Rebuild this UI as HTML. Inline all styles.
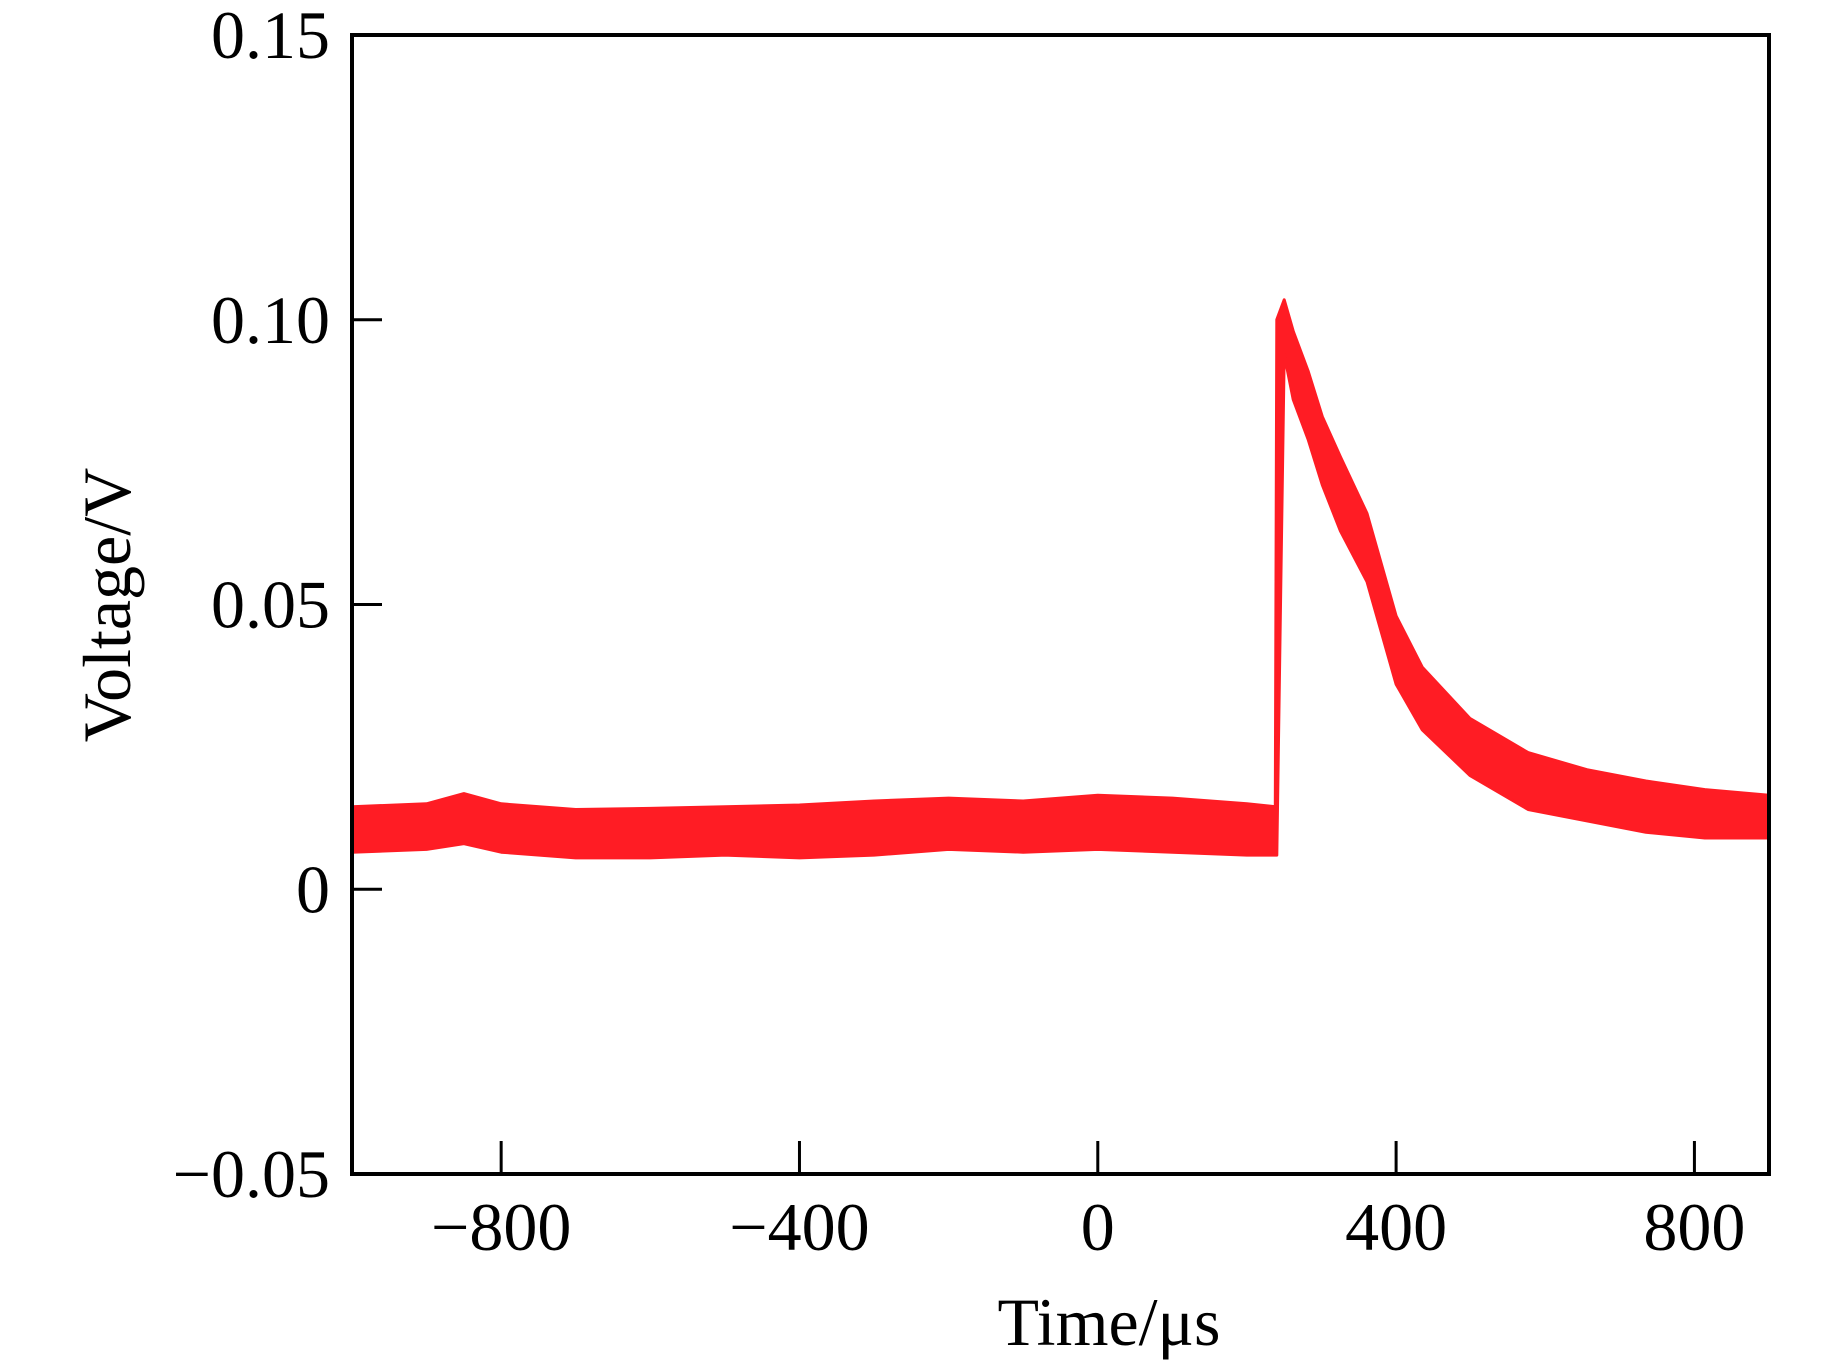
<!DOCTYPE html>
<html><head><meta charset="utf-8"><style>
html,body{margin:0;padding:0;background:#fff;}
svg{display:block;}
text{font-family:"Liberation Serif","DejaVu Serif",serif;fill:#000;}
</style></head><body>
<svg id="chart" width="1843" height="1363" viewBox="0 0 1843 1363" xmlns="http://www.w3.org/2000/svg">
<g id="series"></g>
<g id="axes"></g>
</svg>
<script>
const times = [-1000,-900,-850,-800,-700,-600,-500,-400,-300,-200,-100,0,100,200,238,240,250,262,282,301,325,361,400,435,499,577,656,735,814,900];
const upperV = [0.0145,0.015,0.0168,0.015,0.014,0.0142,0.0145,0.0148,0.0155,0.016,0.0155,0.0165,0.016,0.015,0.0145,0.100,0.1035,0.098,0.091,0.083,0.076,0.066,0.048,0.039,0.030,0.024,0.021,0.019,0.0175,0.0165];
const lowerV = [0.0065,0.007,0.008,0.0065,0.0055,0.0055,0.006,0.0055,0.006,0.007,0.0065,0.007,0.0065,0.006,0.006,0.006,0.094,0.086,0.079,0.071,0.063,0.054,0.036,0.028,0.020,0.014,0.012,0.010,0.009,0.009];
const xTicks = [-800,-400,0,400,800];
const xTickLabels = ["\u2212800","\u2212400","0","400","800"];
const yTicks = [0.15,0.10,0.05,0,-0.05];
const yTickLabels = ["0.15","0.10","0.05","0","\u22120.05"];

const L=352,R=1769,T=35,B=1174;
const xMin=-1000,xMax=900,yMin=-0.05,yMax=0.15;
function sx(t){return L+(t-xMin)/(xMax-xMin)*(R-L);}
function sy(v){return T+(yMax-v)/(yMax-yMin)*(B-T);}
const NS="http://www.w3.org/2000/svg";
function mk(tag,parent){const e=document.createElementNS(NS,tag);parent.appendChild(e);return e;}

const sg=document.getElementById('series');
let pts=[];
for(let i=0;i<times.length;i++)pts.push(sx(times[i]).toFixed(1)+','+sy(upperV[i]).toFixed(1));
for(let i=times.length-1;i>=0;i--)pts.push(sx(times[i]).toFixed(1)+','+sy(lowerV[i]).toFixed(1));
const band=mk('polygon',sg);
band.setAttribute('points',pts.join(' '));
band.setAttribute('fill','#ff1c24');
band.setAttribute('stroke','#ff1c24');
band.setAttribute('stroke-width','3');
band.setAttribute('stroke-linejoin','round');



const ag=document.getElementById('axes');
const frame=mk('rect',ag);
frame.setAttribute('x',L);frame.setAttribute('y',T);
frame.setAttribute('width',R-L);frame.setAttribute('height',B-T);
frame.setAttribute('fill','none');frame.setAttribute('stroke','#000');frame.setAttribute('stroke-width','4');



xTicks.forEach((t,i)=>{
  const x=sx(t);
  const ln=mk('line',ag);
  ln.setAttribute('x1',x);ln.setAttribute('x2',x);ln.setAttribute('y1',B);ln.setAttribute('y2',B-33);
  ln.setAttribute('stroke','#000');ln.setAttribute('stroke-width','3');
  
  
  const tx=mk('text',ag);
  tx.setAttribute('x',x);tx.setAttribute('y',1250);tx.setAttribute('text-anchor','middle');tx.setAttribute('font-size','68');
  tx.textContent=xTickLabels[i];
  
  
});
yTicks.forEach((v,i)=>{
  const y=sy(v);
  const ln=mk('line',ag);
  ln.setAttribute('x1',L);ln.setAttribute('x2',L+30);ln.setAttribute('y1',y);ln.setAttribute('y2',y);
  ln.setAttribute('stroke','#000');ln.setAttribute('stroke-width','3');
  
  
  const tx=mk('text',ag);
  tx.setAttribute('x',330);tx.setAttribute('y',y+23);tx.setAttribute('text-anchor','end');tx.setAttribute('font-size','68');
  tx.textContent=yTickLabels[i];
  
  
});
const xt=mk('text',ag);
xt.setAttribute('x',1109);xt.setAttribute('y',1345);xt.setAttribute('text-anchor','middle');xt.setAttribute('font-size','68');
xt.textContent='Time/\u03bcs';


const yt=mk('text',ag);
yt.setAttribute('x',0);yt.setAttribute('y',0);yt.setAttribute('text-anchor','middle');yt.setAttribute('font-size','68');
yt.setAttribute('transform','translate(130,605) rotate(-90)');
yt.textContent='Voltage/V';


</script>
</body></html>
